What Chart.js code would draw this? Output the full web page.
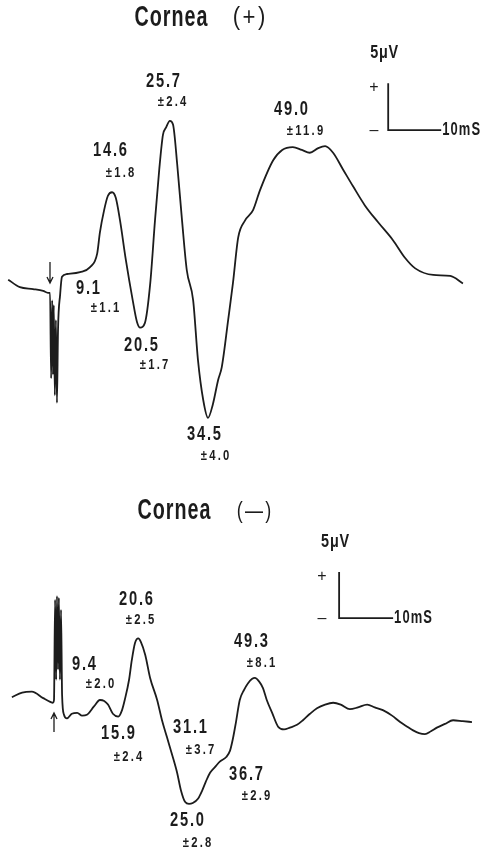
<!DOCTYPE html>
<html>
<head>
<meta charset="utf-8">
<script src="https://cdn.jsdelivr.net/npm/chart.js@4.4.1/dist/chart.umd.min.js"></script>
<style>
  body { margin: 0; background: #fff; }
  .wrap { position: relative; width: 488px; height: 854px; }
  canvas { position: absolute; left: 0; }
</style>
</head>
<body>
<div class="wrap">
  <canvas id="top" width="488" height="470" style="top:0"></canvas>
  <canvas id="bottom" width="488" height="384" style="top:470px"></canvas>
</div>
<script>
// time in ms after stimulus, amplitude in microvolts
const timeTop = [-7.7, -5.5, -3.0, -1.1, -0.2, 0.2, 0.4, 0.6, 0.75, 0.9, 1.1, 1.3, 1.5, 1.7, 2.1, 2.45, 3.4, 5.85, 7.7, 9.1, 9.6, 10.4, 11.1, 11.9, 12.6, 13.4, 14.5, 15.8, 16.6, 17.2, 18.1, 19.1, 20.0, 20.8, 21.5, 22.1, 22.8, 23.4, 24.2, 25.1, 26.0, 27.2, 28.1, 29.1, 30.0, 30.9, 31.9, 32.6, 33.8, 34.7, 35.7, 37.0, 38.5, 39.8, 42.3, 44.0, 46.0, 47.7, 49.2, 50.8, 52.1, 53.6, 55.5, 57.4, 59.6, 62.1, 64.9, 67.2, 69.1, 72.5, 75.7, 78.1];
const voltTop = [1.1, 0.3, 0.1, -0.1, -0.3, -0.3, -9.4, -1.1, -9.0, -1.6, -11.2, -3.2, -12.0, -4.3, -0.5, 1.4, 1.7, 1.9, 2.4, 3.9, 6.1, 8.5, 10.0, 10.4, 9.8, 7.4, 3.2, -1.1, -3.4, -4.0, -3.5, 0.7, 7.4, 12.8, 16.5, 17.3, 18.0, 17.6, 13.3, 7.4, 2.1, -1.1, -7.4, -11.7, -13.6, -12.2, -9.6, -8.2, -3.2, 0.7, 5.6, 7.4, 8.5, 10.6, 13.8, 14.9, 15.2, 14.9, 14.6, 15.1, 15.3, 14.6, 12.8, 11.0, 9.0, 7.2, 5.3, 3.4, 2.3, 1.6, 1.5, 0.7];

const timeBottom = [-7.8, -5.9, -4.1, -2.0, -0.7, -0.2, 0.0, 0.2, 0.4, 0.55, 0.75, 0.9, 1.1, 1.3, 1.5, 1.85, 2.4, 3.3, 4.3, 5.2, 6.1, 7.4, 8.5, 9.3, 10.0, 10.9, 11.9, 12.6, 13.1, 13.9, 14.4, 15.0, 15.6, 16.1, 16.9, 17.8, 19.1, 20.0, 20.9, 21.9, 22.8, 23.5, 24.3, 25.0, 25.7, 26.7, 27.4, 28.1, 28.9, 29.8, 30.7, 31.9, 32.6, 33.1, 33.7, 34.4, 35.2, 35.9, 36.7, 37.2, 38.0, 38.7, 39.4, 40.4, 41.5, 42.6, 43.7, 45.0, 46.1, 47.4, 48.7, 50.2, 51.7, 53.1, 54.8, 56.3, 58.0, 59.4, 60.9, 62.6, 64.1, 65.4, 66.5, 67.6, 68.7, 69.8, 70.9, 72.4, 73.9, 75.7, 77.4];
const voltBottom = [0.3, 0.8, 0.9, 0.2, -0.2, -0.3, 0.0, 10.9, 2.2, 11.3, 3.3, 11.1, 2.2, 9.8, 0.5, -1.6, -2.0, -1.5, -1.4, -1.7, -1.6, -0.7, 0.0, -0.1, -0.5, -1.5, -1.8, -1.1, 0.0, 2.2, 4.3, 6.2, 6.7, 6.3, 4.9, 2.4, 0.0, -2.2, -4.0, -6.0, -7.9, -9.8, -11.1, -11.3, -11.2, -10.7, -9.9, -8.9, -7.9, -7.3, -6.7, -6.2, -5.5, -4.3, -2.4, 0.0, 1.1, 1.8, 2.3, 2.4, 2.0, 1.3, 0.0, -1.4, -2.9, -3.2, -3.0, -2.7, -2.2, -1.5, -0.9, -0.5, -0.3, -0.5, -1.0, -0.8, -0.5, -0.8, -1.1, -1.7, -2.4, -2.9, -3.3, -3.6, -3.7, -3.4, -3.0, -2.6, -2.2, -2.3, -2.4];

// peak latencies (ms) and SD labels
const latTop = ['9.1', '14.6', '20.5', '25.7', '34.5', '49.0'];
const sdTop = ['1.1', '1.8', '1.7', '2.4', '4.0', '11.9'];
const latBottom = ['9.4', '20.6', '15.9', '31.1', '25.0', '36.7', '49.3'];
const sdBottom = ['2.0', '2.5', '2.4', '3.7', '2.8', '2.9', '8.1'];

const ink = '#1c1c1c';
const FONT = '"Liberation Sans", Arial, sans-serif';

function txt(ctx, s, x, y, size, sx, sp, align, weight) {
  ctx.save();
  ctx.font = (weight || 'bold') + ' ' + size + 'px ' + FONT;
  ctx.letterSpacing = sp + 'px';
  const w = ctx.measureText(s).width - sp;
  ctx.translate(x, y);
  ctx.scale(sx, 1);
  ctx.textBaseline = 'middle';
  ctx.textAlign = 'left';
  ctx.fillStyle = ink;
  ctx.fillText(s, align === 'left' ? 0 : -w / 2, 0);
  ctx.restore();
}

function arrow(ctx, x, y0, y1) {
  // y1 is the tip
  const d = y1 > y0 ? 1 : -1;
  ctx.save();
  ctx.strokeStyle = ink;
  ctx.lineWidth = 1.3;
  ctx.beginPath();
  ctx.moveTo(x, y0); ctx.lineTo(x, y1);
  ctx.moveTo(x - 3, y1 - d * 6); ctx.lineTo(x, y1); ctx.lineTo(x + 3, y1 - d * 6);
  ctx.stroke();
  ctx.restore();
}

function makeChart(id, t, v, xr, yr, deco) {
  const pts = t.map((x, i) => ({ x: x, y: v[i] }));
  return new Chart(document.getElementById(id), {
    type: 'line',
    data: {
      datasets: [{
        data: pts,
        borderColor: ink,
        borderWidth: 1.8,
        pointRadius: 0,
        fill: false,
        cubicInterpolationMode: 'monotone'
      }]
    },
    options: {
      responsive: false,
      animation: false,
      devicePixelRatio: 1,
      layout: { padding: 0 },
      plugins: { legend: { display: false }, tooltip: { enabled: false } },
      scales: {
        x: { type: 'linear', display: false, min: xr[0], max: xr[1] },
        y: { display: false, min: yr[0], max: yr[1] }
      }
    },
    plugins: [{ id: 'deco', afterDraw: deco }]
  });
}

function scaleBar(chart, t0, v0, plusX) {
  const ctx = chart.ctx, sx = chart.scales.x, sy = chart.scales.y;
  const x0 = sx.getPixelForValue(t0), x1 = sx.getPixelForValue(t0 + 10);
  const y0 = sy.getPixelForValue(v0), y1 = sy.getPixelForValue(v0 + 5);
  ctx.save();
  ctx.strokeStyle = ink;
  ctx.lineWidth = 1.8;
  ctx.beginPath();
  ctx.moveTo(x0, y1); ctx.lineTo(x0, y0); ctx.lineTo(x1, y0);
  ctx.stroke();
  ctx.restore();
  txt(ctx, '+', plusX, y1 + 4, 16, 1, 0, null, 'normal');
  txt(ctx, '\u2013', plusX, y0, 16, 1, 0, null, 'normal');
  txt(ctx, '5\u03bcV', x0 - 4, y1 - 30, 18, 0.8, 1);
  txt(ctx, '10mS', x1 + 1, y0, 18, 0.72, 1.5, 'left');
}

// top trace: 5.3 px per ms, 9.4 px per uV
makeChart('top', timeTop, voltTop, [-9.245, 82.83], [-19.15, 30.85], function (chart) {
  const ctx = chart.ctx;
  txt(ctx, 'Cornea', 171, 18, 29, 0.68, 1.5);
  txt(ctx, '(+)', 249, 18, 26, 0.85, 3, null, 'normal');
  scaleBar(chart, 64.0, 17.0, 374);
  const ax = chart.scales.x.getPixelForValue(0);
  arrow(ctx, ax + 1, 262, 283);
  const pos = [[88, 288, 105, 308], [110, 150, 120, 173], [141, 345, 154, 365],
               [163, 81, 172, 102], [204, 434, 215, 456], [291, 109, 305, 131]];
  latTop.forEach((s, i) => {
    const p = pos[i];
    txt(ctx, s, p[0], p[1], 21, 0.7, 2.5);
    txt(ctx, '\u00b1' + sdTop[i], p[2], p[3], 15, 0.75, 3);
  });
});

// bottom trace: 5.4 px per ms, 9.2 px per uV
makeChart('bottom', timeBottom, voltBottom, [-10, 80.37], [-16.74, 25.0], function (chart) {
  const ctx = chart.ctx;
  txt(ctx, 'Cornea', 174, 41, 29, 0.68, 1.5);
  txt(ctx, '(\u2014)', 254, 41, 24, 0.75, 3, null, 'normal');
  scaleBar(chart, 52.8, 8.9, 322);
  const ax = chart.scales.x.getPixelForValue(0);
  arrow(ctx, ax, 262, 243);
  const pos = [[84, 194, 100, 214], [136, 129, 140, 150], [118, 263, 128, 287],
               [190, 257, 200, 280], [187, 350, 197, 373], [246, 304, 256, 326],
               [251, 171, 261, 193]];
  latBottom.forEach((s, i) => {
    const p = pos[i];
    txt(ctx, s, p[0], p[1], 21, 0.7, 2.5);
    txt(ctx, '\u00b1' + sdBottom[i], p[2], p[3], 15, 0.75, 3);
  });
});
</script>
</body>
</html>
